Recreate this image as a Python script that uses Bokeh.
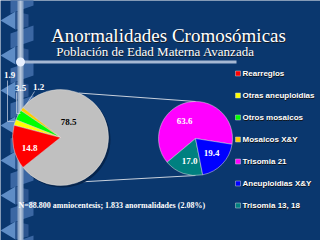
import math
from bokeh.plotting import figure
from bokeh.models import Range1d
from bokeh.core.properties import value
from bokeh.embed import file_html
from bokeh.resources import INLINE

# ---- data ----
primary_names = ["Otras", "Mosaicos X&Y", "Otros mosaicos", "Otras aneuploidias", "Rearreglos"]
primary_values = [78.5, 1.2, 3.5, 1.9, 14.8]
primary_colors = ["#c0c0c0", "#ffcc00", "#00ff00", "#ffff00", "#ff0000"]

secondary_names = ["Trisomia 21", "Trisomia 13, 18", "Aneuploidias X&Y"]
secondary_values = [63.6, 17.0, 19.4]
secondary_colors = ["#ff00ff", "#008080", "#0000ff"]

legend_names = ["Rearreglos", "Otras aneuploidias", "Otros mosaicos", "Mosaicos X&Y",
                "Trisomia 21", "Aneuploidias X&Y", "Trisomia 13, 18"]
legend_colors = ["#ff0000", "#ffff00", "#00ff00", "#ffcc00", "#ff00ff", "#0000ff", "#008080"]

title = "Anormalidades Cromosómicas"
subtitle = "Población de Edad Materna Avanzada"
footnote = "N=88.800 amniocentesis; 1.833 anormalidades (2.08%)"

BG = "#0a376e"
H = 240
def Y(v):
    return H - v

p = figure(width=320, height=240, output_backend="svg", toolbar_location=None,
           x_range=Range1d(0, 320), y_range=Range1d(0, 240), min_border=0)
p.axis.visible = False
p.grid.visible = False
p.outline_line_color = None
p.background_fill_color = BG
p.border_fill_color = BG

# ---- left ribbon decoration ----
pole_x = 20
for y0 in range(-10, 250, 35):
    p.patch([10, 33, 33, 10], [Y(y0 + 8), Y(y0), Y(y0 + 15), Y(y0 + 23)],
            fill_color="#3b67a3", line_color=None)
    p.patch([0, 15, 15], [Y(y0 + 30), Y(y0 + 21), Y(y0 + 39)],
            fill_color="#5f8dc6", line_color=None)
    p.patch([15, 28, 28, 15], [Y(y0 + 21), Y(y0 + 24), Y(y0 + 36), Y(y0 + 39)],
            fill_color="#2c558f", line_color=None)
p.quad(left=pole_x - 3, right=pole_x + 3, bottom=0, top=240, fill_color="#8ea6c6", line_color=None)
p.quad(left=pole_x - 1, right=pole_x + 1, bottom=0, top=240, fill_color="#b9c9de", line_color=None)
# horizontal rule
p.quad(left=pole_x, right=236, bottom=Y(63), top=Y(60), fill_color="#a6b8d3", line_color=None)
p.scatter([pole_x], [Y(61.5)], size=9, fill_color="#e8f0ff", line_color=None)

# ---- titles ----
p.text([168.8], [Y(35.5)], text=[title], text_align="center", text_baseline="middle",
       text_font=value("Liberation Serif"), text_font_size="19px", text_color="#1a1a1a")
p.text([168], [Y(34.5)], text=[title], text_align="center", text_baseline="middle",
       text_font=value("Liberation Serif"), text_font_size="19px", text_color="#ffffff")
p.text([155.5], [Y(51.5)], text=[subtitle], text_align="center", text_baseline="middle",
       text_font=value("Liberation Serif"), text_font_size="13px", text_color="#1a1a1a")
p.text([155], [Y(51)], text=[subtitle], text_align="center", text_baseline="middle",
       text_font=value("Liberation Serif"), text_font_size="13px", text_color="#ffffff")

# ---- primary pie ----
cx1, cy1, r1 = 60, 137, 48
tot1 = sum(primary_values)
a = -primary_values[0] / tot1 * 180.0
starts1, ends1 = [], []
for v in primary_values:
    starts1.append(math.radians(a))
    a += v / tot1 * 360.0
    ends1.append(math.radians(a))

cx2, cy2, r2 = 195, 138, 37
# connector lines
p.line([cx1 + r1 * math.cos(math.radians(68)), cx2], [Y(cy1 - r1 * math.sin(math.radians(68))), Y(cy2 - r2)],
       line_color="#c8d0dc", line_width=1.2)
p.line([cx1 + r1 * math.cos(math.radians(-68)), cx2], [Y(cy1 - r1 * math.sin(math.radians(-68))), Y(cy2 + r2)],
       line_color="#c8d0dc", line_width=1.2)

p.wedge(x=[cx1 + 2] * len(primary_values), y=[Y(cy1 + 2)] * len(primary_values), radius=r1,
        start_angle=starts1, end_angle=ends1, fill_color="#06254d", line_color=None)
p.wedge(x=[cx1] * len(primary_values), y=[Y(cy1)] * len(primary_values), radius=r1,
        start_angle=starts1, end_angle=ends1, fill_color=primary_colors,
        line_color="#e0e0e0", line_width=0.5)

# ---- secondary pie ----
tot2 = sum(secondary_values)
a = -9.0
starts2, ends2 = [], []
for v in secondary_values:
    starts2.append(math.radians(a))
    a += v / tot2 * 360.0
    ends2.append(math.radians(a))
p.wedge(x=[cx2] * 3, y=[Y(cy2)] * 3, radius=r2, start_angle=starts2, end_angle=ends2,
        fill_color=secondary_colors, line_color="#e0e0e0", line_width=0.5)

# ---- data labels ----
lab_font = value("Liberation Serif")
def lab(x, y, t, c):
    p.text([x], [Y(y)], text=[t], text_align="center", text_baseline="middle",
           text_font=lab_font, text_font_style="bold", text_font_size="9px", text_color=c)

lab(68, 121, f"{primary_values[0]:.1f}", "#000000")
lab(29, 147, f"{primary_values[4]:.1f}", "#ffffff")
lab(9, 74, f"{primary_values[3]:.1f}", "#ffffff")
lab(20, 87, f"{primary_values[2]:.1f}", "#ffffff")
lab(38, 86, f"{primary_values[1]:.1f}", "#ffffff")
lab(184, 120, f"{secondary_values[0]:.1f}", "#ffffff")
lab(211, 152, f"{secondary_values[2]:.1f}", "#ffffff")
lab(189, 160, f"{secondary_values[1]:.1f}", "#ffffff")

# leader lines
p.line([7, 7, 14], [Y(80), Y(121), Y(121)], line_color="#d0d8e8", line_width=0.7)
p.line([16, 16, 20], [Y(92), Y(113), Y(113)], line_color="#d0d8e8", line_width=0.7)
p.line([34, 26], [Y(91), Y(104)], line_color="#d0d8e8", line_width=0.7)

# ---- legend ----
for i, (nm, col) in enumerate(zip(legend_names, legend_colors)):
    yy = 73 + i * 22
    p.quad(left=235, right=240, bottom=Y(yy + 2.5), top=Y(yy - 2.5), fill_color=col,
           line_color="#d0d0d0", line_width=0.5)
    p.text([242.5], [Y(yy + 1)], text=[nm], text_align="left", text_baseline="middle",
           text_font=value("Liberation Sans"), text_font_style="bold", text_font_size="8px",
           text_color="#111111")
    p.text([242], [Y(yy)], text=[nm], text_align="left", text_baseline="middle",
           text_font=value("Liberation Sans"), text_font_style="bold", text_font_size="8px",
           text_color="#ffffff")

# ---- footnote ----
p.text([18], [Y(205)], text=[footnote], text_align="left", text_baseline="middle",
       text_font=value("Liberation Serif"), text_font_style="bold", text_font_size="8px",
       text_color="#ffffff")

open("out.html", "w").write(file_html(p, INLINE))
